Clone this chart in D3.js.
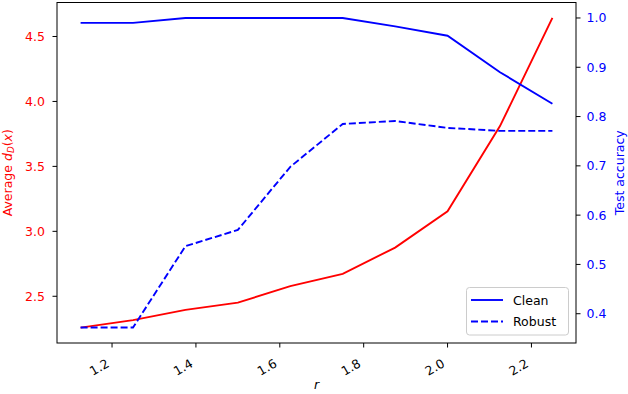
<!DOCTYPE html>
<html>
<head>
<meta charset="utf-8">
<script src="https://cdn.jsdelivr.net/npm/d3@7"></script>
<style>
  body { margin: 0; background: #fff; }
  svg { font-family: "DejaVu Sans", sans-serif; }
</style>
</head>
<body>
<div id="chart"></div>
<script>
// ---------- DATA ----------
const rValues = [1.125, 1.25, 1.375, 1.5, 1.625, 1.75, 1.875, 2.0, 2.125, 2.25];
const avgDist = [2.259, 2.316, 2.395, 2.451, 2.578, 2.673, 2.875, 3.154, 3.81, 4.643];
const cleanAcc = [0.990, 0.990, 1.0, 1.0, 1.0, 1.0, 0.983, 0.964, 0.890, 0.826];
const robustAcc = [0.372, 0.372, 0.537, 0.570, 0.698, 0.785, 0.791, 0.777, 0.771, 0.771];
const xTicks = [1.2, 1.4, 1.6, 1.8, 2.0, 2.2];
const leftTicks = [2.5, 3.0, 3.5, 4.0, 4.5];
const rightTicks = [0.4, 0.5, 0.6, 0.7, 0.8, 0.9, 1.0];

// ---------- LAYOUT ----------
const W = 628, H = 394;
const axLeft = 57, axRight = 576, axTop = 2.5, axBottom = 343;
const fs = 12.5;

const svg = d3.select("#chart").append("svg")
  .attr("width", W).attr("height", H);

// SCALES (matplotlib 5% margins)
const x = d3.scaleLinear().domain([1.06875, 2.30625]).range([axLeft, axRight]);
const yL = d3.scaleLinear().domain([2.1403, 4.7617]).range([axBottom, axTop]);
const yR = d3.scaleLinear().domain([0.3406, 1.0314]).range([axBottom, axTop]);

// ---------- LINES ----------
const redLine = d3.line().x((d, i) => x(rValues[i])).y(d => yL(d));
const accLine = d3.line().x((d, i) => x(rValues[i])).y(d => yR(d));

svg.append("path").datum(avgDist)
  .attr("d", redLine).attr("fill", "none")
  .attr("stroke", "red").attr("stroke-width", 1.9);

svg.append("path").datum(cleanAcc)
  .attr("d", accLine).attr("fill", "none")
  .attr("stroke", "blue").attr("stroke-width", 1.9);

svg.append("path").datum(robustAcc)
  .attr("d", accLine).attr("fill", "none")
  .attr("stroke", "blue").attr("stroke-width", 1.9)
  .attr("stroke-dasharray", "7,3");

// ---------- FRAME ----------
svg.append("rect")
  .attr("x", axLeft).attr("y", axTop)
  .attr("width", axRight - axLeft).attr("height", axBottom - axTop)
  .attr("fill", "none").attr("stroke", "black").attr("stroke-width", 1);

// ---------- X AXIS ----------
const xg = svg.append("g");
xTicks.forEach(t => {
  const tx = x(t);
  xg.append("line").attr("x1", tx).attr("x2", tx)
    .attr("y1", axBottom).attr("y2", axBottom + 4.5)
    .attr("stroke", "black").attr("stroke-width", 1);
  xg.append("text")
    .attr("transform", `translate(${tx - 2},366) rotate(-30)`)
    .attr("text-anchor", "end")
    .attr("font-size", fs)
    .text(t.toFixed(1));
});
svg.append("text")
  .attr("x", (axLeft + axRight) / 2).attr("y", 389)
  .attr("text-anchor", "middle")
  .attr("font-size", fs).attr("font-style", "italic")
  .text("r");

// ---------- LEFT AXIS ----------
const lg = svg.append("g");
leftTicks.forEach(t => {
  const ty = yL(t);
  lg.append("line").attr("x1", axLeft - 4.5).attr("x2", axLeft)
    .attr("y1", ty).attr("y2", ty)
    .attr("stroke", "black").attr("stroke-width", 1);
  lg.append("text")
    .attr("x", 45).attr("y", ty)
    .attr("dy", "0.36em")
    .attr("text-anchor", "end")
    .attr("font-size", fs).attr("fill", "red")
    .text(t.toFixed(1));
});

const yLabel = svg.append("text")
  .attr("transform", `translate(11.5,${(axTop + axBottom) / 2}) rotate(-90)`)
  .attr("text-anchor", "middle")
  .attr("font-size", fs).attr("fill", "red");
yLabel.append("tspan").text("Average ");
yLabel.append("tspan").attr("font-style", "italic").text("d");
yLabel.append("tspan").attr("font-style", "italic").attr("font-size", fs * 0.7)
  .attr("dy", 2.5).text("D");
yLabel.append("tspan").attr("dy", -2.5).text("(");
yLabel.append("tspan").attr("font-style", "italic").text("x");
yLabel.append("tspan").text(")");

// ---------- RIGHT AXIS ----------
const rg = svg.append("g");
rightTicks.forEach(t => {
  const ty = yR(t);
  rg.append("line").attr("x1", axRight).attr("x2", axRight + 4.5)
    .attr("y1", ty).attr("y2", ty)
    .attr("stroke", "black").attr("stroke-width", 1);
  rg.append("text")
    .attr("x", 586.5).attr("y", ty)
    .attr("dy", "0.36em")
    .attr("text-anchor", "start")
    .attr("font-size", fs).attr("fill", "blue")
    .text(t.toFixed(1));
});
svg.append("text")
  .attr("transform", `translate(624,${(axTop + axBottom) / 2}) rotate(-90)`)
  .attr("text-anchor", "middle")
  .attr("font-size", fs).attr("fill", "blue")
  .text("Test accuracy");

// ---------- LEGEND ----------
const leg = svg.append("g");
leg.append("rect")
  .attr("x", 466.5).attr("y", 287.5)
  .attr("width", 102).attr("height", 47.5)
  .attr("rx", 3).attr("ry", 3)
  .attr("fill", "white").attr("fill-opacity", 0.8)
  .attr("stroke", "#cccccc").attr("stroke-width", 1);
const legendItems = [
  { label: "Clean", dash: null, y: 300 },
  { label: "Robust", dash: "7,3", y: 321.5 }
];
legendItems.forEach(it => {
  leg.append("line")
    .attr("x1", 471).attr("x2", 503)
    .attr("y1", it.y).attr("y2", it.y)
    .attr("stroke", "blue").attr("stroke-width", 1.9)
    .attr("stroke-dasharray", it.dash);
  leg.append("text")
    .attr("x", 513).attr("y", it.y)
    .attr("dy", "0.36em")
    .attr("font-size", fs)
    .text(it.label);
});
</script>
</body>
</html>
